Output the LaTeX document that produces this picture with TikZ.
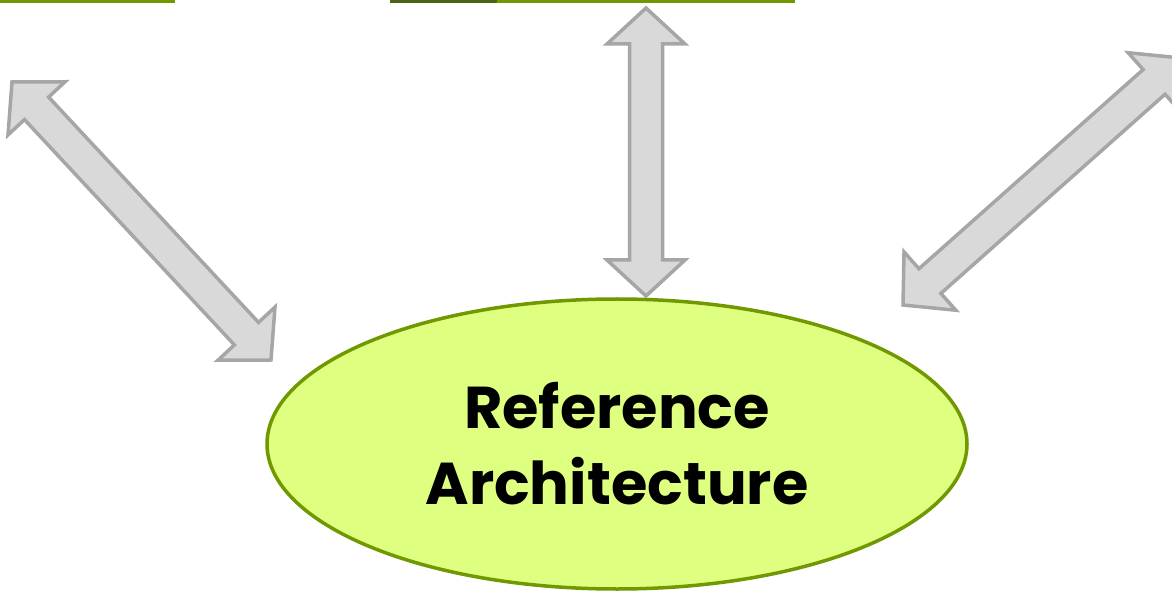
\documentclass[tikz,border=0pt]{standalone}
\usepackage{fontspec}
\setmainfont{Poppins}
\usetikzlibrary{calc,shapes.geometric}

\definecolor{leaf}{RGB}{112,152,0}
\definecolor{leafdark}{RGB}{76,100,20}
\definecolor{lime}{RGB}{223,255,128}
\definecolor{arrowfill}{RGB}{217,217,217}
\definecolor{arrowline}{RGB}{166,166,166}

\tikzset{
  hub/.style={ellipse, draw=leaf, fill=lime, line width=3.5pt,
    minimum width=700pt, minimum height=290pt, inner sep=0pt,
    align=center, font=\fontsize{59}{76}\selectfont\bfseries},
  blockarrow/.style={draw=arrowline, fill=arrowfill, line width=3.5pt, line join=miter},
  boxedge/.style={line width=3.5pt, line cap=butt}
}

% double-headed block arrow between two tips
\newcommand{\twowayarrow}[2]{%
  \path coordinate (ha) at ($(#1)!36pt!(#2)$)
        coordinate (hb) at ($(#2)!36pt!(#1)$);
  \draw[blockarrow] (#1)
    -- ($(ha)!39pt!90:(#2)$) -- ($(ha)!16.5pt!90:(#2)$)
    -- ($(hb)!16.5pt!-90:(#1)$) -- ($(hb)!39pt!-90:(#1)$)
    -- (#2)
    -- ($(hb)!39pt!90:(#1)$) -- ($(hb)!16.5pt!90:(#1)$)
    -- ($(ha)!16.5pt!-90:(#2)$) -- ($(ha)!39pt!-90:(#2)$)
    -- cycle;
}

\begin{document}
\begin{tikzpicture}[x=1pt,y=-1pt]
  \useasboundingbox (0,0) rectangle (1172,593);

  % bottom edges of the boxes above
  \coordinate (lbL) at (0,1);
  \coordinate (lbR) at (175,1);
  \coordinate (mbL) at (390,1);
  \coordinate (mbM) at (497,1);
  \coordinate (mbR) at (795,1);
  \draw[boxedge, leaf] (lbL) -- (lbR);
  \draw[boxedge, leafdark] (mbL) -- (mbM);
  \draw[boxedge, leaf] (mbM) -- (mbR);

  % central element
  \node[hub] (ra) at (617,444) {\raisebox{-5pt}{Reference}\\\raisebox{-5pt}{Architecture}};

  % arrow tips
  \coordinate (l1) at (12,82);
  \coordinate (l2) at (271,360);
  \coordinate (m1) at (646,8);
  \coordinate (m2) at (646,296);
  \coordinate (r1) at (1181,58);
  \coordinate (r2) at (903,305);

  \twowayarrow{l1}{l2}
  \twowayarrow{m1}{m2}
  \twowayarrow{r1}{r2}
\end{tikzpicture}
\end{document}
